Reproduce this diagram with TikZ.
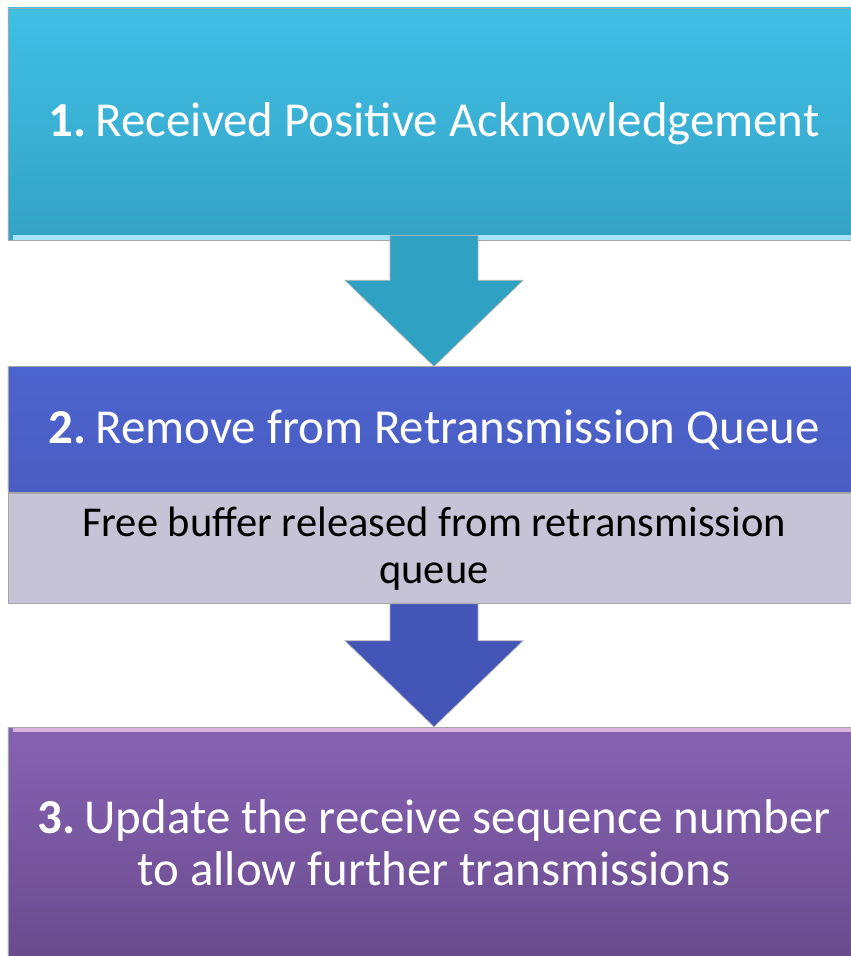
\documentclass[tikz,border=0pt]{standalone}
\usepackage{fontspec}
\setmainfont{Carlito}
\usetikzlibrary{positioning,calc}

\definecolor{acktop}{HTML}{40BFE5}
\definecolor{ackbot}{HTML}{33A3C5}
\definecolor{ackarrow}{HTML}{2FA2C3}
\definecolor{remtop}{HTML}{4C64CE}
\definecolor{rembot}{HTML}{4A5DC2}
\definecolor{freegray}{HTML}{C6C3D6}
\definecolor{remarrow}{HTML}{4356B8}
\definecolor{updtop}{HTML}{8762B3}
\definecolor{updbot}{HTML}{694B8D}

\begin{document}
\begin{tikzpicture}[
	stepbox/.style = { minimum width=17.04cm, inner sep=0pt,
			draw=black!35, thin, align=center,
			font=\fontsize{27.8}{29.5}\selectfont },
	bigstep/.style = { stepbox, text=white },
	blockarrow/.style = { draw=black!30, thin } ]

  \useasboundingbox (0,0) rectangle (17,-19.12);

  \node[name=ack, bigstep, minimum height=4.64cm,
        top color=acktop, bottom color=ackbot] at (8.68,-2.48)
    {\raisebox{-8pt}{\textbf{1.}\hspace{-3pt} Received Positive Acknowledgement}};
  \node[name=remove, bigstep, minimum height=2.52cm,
        top color=remtop, bottom color=rembot, below=2.52cm of ack]
    {\textbf{2.}\hspace{-3pt} Remove from Retransmission Queue};
  \node[name=freebuf, stepbox, minimum height=2.2cm, fill=freegray,
        font=\fontsize{24.2}{26.6}\selectfont, below=0pt of remove]
    {Free buffer released from retransmission\\queue};
  \node[name=update, bigstep, minimum height=4.64cm,
        top color=updtop, bottom color=updbot, below=2.46cm of freebuf]
    {\textbf{3.}\hspace{-3pt} Update the receive sequence number\\to allow further transmissions};

  % bevel edges
  \draw[cyan!35, line width=2.5pt] ($(ack.south west)+(0.1,0.06)$) -- ($(ack.south east)+(-0.1,0.06)$);
  \draw[violet!30, line width=2.5pt] ($(update.north west)+(0.1,-0.06)$) -- ($(update.north east)+(-0.1,-0.06)$);

  \filldraw[blockarrow, fill=ackarrow]
    ($(ack.south)+(-0.88,0.1)$) -- ($(ack.south)+(0.88,0.1)$)
    -- ($(remove.north)+(0.88,1.72)$) -- ($(remove.north)+(1.78,1.72)$)
    -- (remove.north) -- ($(remove.north)+(-1.78,1.72)$)
    -- ($(remove.north)+(-0.88,1.72)$) -- cycle;
  \filldraw[blockarrow, fill=remarrow]
    ($(freebuf.south)+(-0.88,0)$) -- ($(freebuf.south)+(0.88,0)$)
    -- ($(update.north)+(0.88,1.72)$) -- ($(update.north)+(1.78,1.72)$)
    -- (update.north) -- ($(update.north)+(-1.78,1.72)$)
    -- ($(update.north)+(-0.88,1.72)$) -- cycle;
\end{tikzpicture}
\end{document}
